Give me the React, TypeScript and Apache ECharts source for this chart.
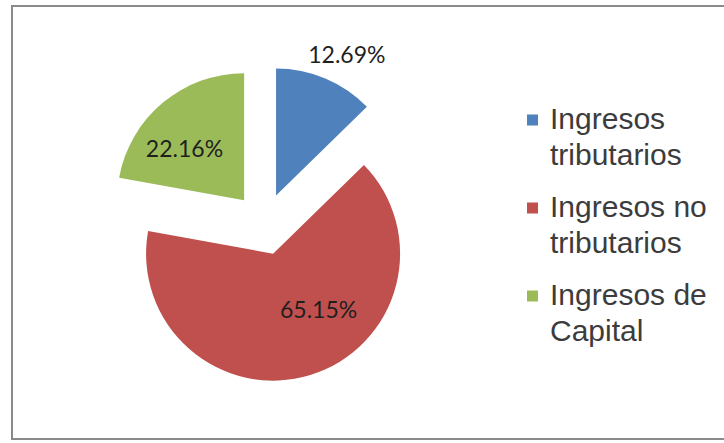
import React, { useEffect, useRef } from "react";
import * as echarts from "echarts";

const categories = ["Ingresos tributarios", "Ingresos no tributarios", "Ingresos de Capital"];
const legendLines = ["Ingresos\ntributarios", "Ingresos no\ntributarios", "Ingresos de\nCapital"];
const shares = [12.69, 65.15, 22.16];
const colors = ["#4F81BD", "#C0504D", "#9BBB59"];
// label nudges (px) relative to ECharts' default inside position
const labelShift = [
  [45, -80],
  [26, -8],
  [-17, -1.5],
];

// legend marker: 11px square placed beside the first text line (tiny specks stretch the box)
const legendIcon =
  "path://M0,0h0.01v0.01h-0.01Z M0,14.5h11v11h-11Z M18,72h-0.01v-0.01h0.01Z";

export default function App() {
  const ref = useRef<HTMLDivElement>(null);

  useEffect(() => {
    if (!ref.current) return;
    const chart = echarts.init(ref.current, undefined, { renderer: "svg" });
    chart.setOption({
      animation: false,
      backgroundColor: "#ffffff",
      graphic: [
        {
          type: "rect",
          shape: { x: 12, y: 6, width: 740, height: 433 },
          style: { fill: "none", stroke: "#8a8a8a", lineWidth: 2 },
          silent: true,
          z: -1,
        },
      ],
      legend: {
        orient: "vertical",
        left: 527,
        top: 100,
        padding: 0,
        itemGap: 16,
        itemWidth: 18,
        itemHeight: 72,
        icon: legendIcon,
        itemStyle: { borderWidth: 0 },
        selectedMode: false,
        data: categories,
        formatter: (name: string) => legendLines[categories.indexOf(name)],
        textStyle: {
          fontFamily: "Liberation Sans",
          fontSize: 30,
          lineHeight: 36,
          color: "#3c3c3c",
        },
      },
      series: [
        {
          type: "pie",
          center: [264, 224],
          radius: 127,
          startAngle: 90,
          clockwise: true,
          selectedMode: "multiple",
          selectedOffset: 31,
          avoidLabelOverlap: false,
          silent: true,
          emphasis: { disabled: true },
          select: { itemStyle: { borderWidth: 0 } },
          itemStyle: { borderWidth: 0 },
          labelLine: { show: false },
          label: {
            show: true,
            position: "inside",
            fontFamily: "Lato",
            fontSize: 23,
            color: "#1f1f1f",
            formatter: (p: any) => p.value.toFixed(2) + "%",
          },
          labelLayout: (p: any) => ({
            dx: labelShift[p.dataIndex][0],
            dy: labelShift[p.dataIndex][1],
          }),
          data: categories.map((name, i) => ({
            name,
            value: shares[i],
            selected: true,
            itemStyle: { color: colors[i] },
          })),
        },
      ],
    });
    return () => chart.dispose();
  }, []);

  return (
    <div
      ref={ref}
      style={{ position: "fixed", left: 0, top: 0, width: 724, height: 443, background: "#fff" }}
    />
  );
}
